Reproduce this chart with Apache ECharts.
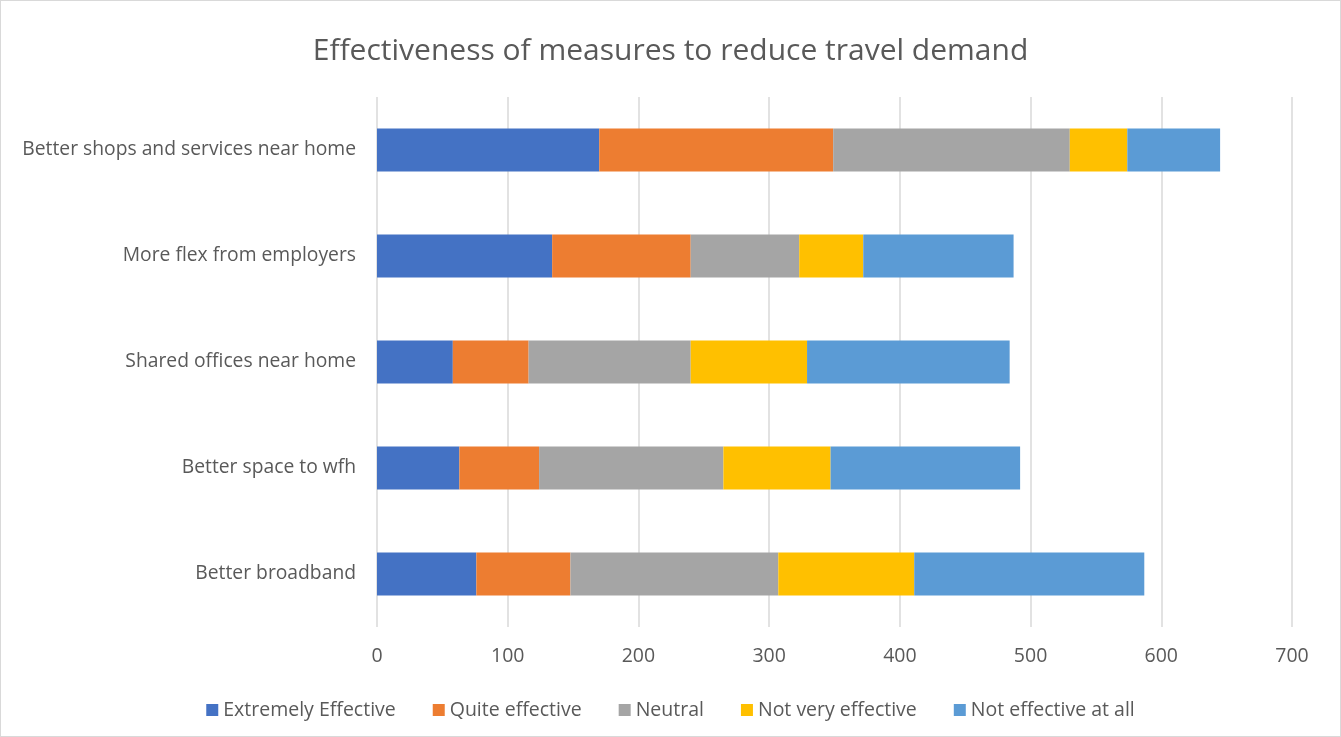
<!DOCTYPE html>
<html>
<head>
<meta charset="utf-8">
<script src="https://cdn.jsdelivr.net/npm/echarts@6/dist/echarts.min.js"></script>
<style>
  html, body { margin: 0; padding: 0; background: #fff; }
  #chart { width: 1339px; height: 735px; border: 1px solid #d9d9d9; }
</style>
</head>
<body>
<div id="chart"></div>
<script>
// Survey responses per measure (bottom to top on the category axis)
const categories = [
  'Better broadband',
  'Better space to wfh',
  'Shared offices near home',
  'More flex from employers',
  'Better shops and services near home'
];
const seriesNames = [
  'Extremely Effective',
  'Quite effective',
  'Neutral',
  'Not very effective',
  'Not effective at all'
];
const extremelyEffective = [76, 63, 58, 134, 170];
const quiteEffective     = [72, 61, 58, 106, 179];
const neutral            = [159, 141, 124, 83, 181];
const notVeryEffective   = [104, 82, 89, 49, 44];
const notEffectiveAtAll  = [176, 145, 155, 115, 71];
const xTicks = { min: 0, max: 700, interval: 100 };

const colors = ['#4472c4', '#ed7d31', '#a5a5a5', '#ffc000', '#5b9bd5'];
const values = [extremelyEffective, quiteEffective, neutral, notVeryEffective, notEffectiveAtAll];
const font = '"Open Sans", "Noto Sans", sans-serif';

const chart = echarts.init(document.getElementById('chart'));
chart.setOption({
  animation: false,
  textStyle: { fontFamily: font },
  title: {
    text: 'Effectiveness of measures to reduce travel demand',
    left: 'center',
    top: 30,
    textStyle: { fontFamily: font, fontSize: 30, fontWeight: 400, color: '#595959' }
  },
  legend: {
    top: 694,
    left: 'center',
    itemWidth: 12,
    itemHeight: 12,
    itemGap: 37,
    icon: 'rect',
    textStyle: { fontFamily: font, fontSize: 19.5, color: '#595959' },
    data: seriesNames
  },
  grid: { left: 376, right: 48, top: 96, bottom: 109, containLabel: false },
  xAxis: {
    type: 'value',
    min: xTicks.min,
    max: xTicks.max,
    interval: xTicks.interval,
    axisLine: { show: false },
    axisTick: { show: false },
    axisLabel: { color: '#595959', fontSize: 19.5, margin: 19, fontFamily: font },
    splitLine: { lineStyle: { color: '#d9d9d9', width: 1.5 } }
  },
  yAxis: {
    type: 'category',
    data: categories,
    axisLine: { show: false },
    axisTick: { show: false },
    axisLabel: { color: '#595959', fontSize: 19.3, margin: 21, fontFamily: font }
  },
  series: seriesNames.map((name, i) => ({
    name,
    type: 'bar',
    stack: 'total',
    barWidth: 43,
    itemStyle: { color: colors[i] },
    emphasis: { disabled: true },
    data: values[i]
  }))
});
</script>
</body>
</html>
